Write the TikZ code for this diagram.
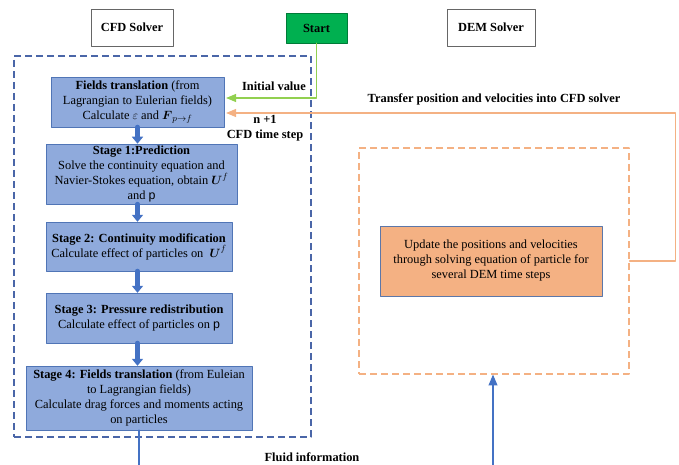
\documentclass[tikz,border=0pt]{standalone}
\usepackage{amsmath,amssymb}
\usepackage{fontspec}
\setmainfont{Liberation Serif}
\setsansfont{Liberation Sans}
\usepackage{tikz}
\usetikzlibrary{arrows,arrows.meta,calc}

\definecolor{stagefill}{HTML}{8FAADC}
\definecolor{stageline}{HTML}{4472C4}
\definecolor{cfdframe}{HTML}{4A66A8}
\definecolor{demfill}{HTML}{F4B183}
\definecolor{demline}{HTML}{F4B183}
\definecolor{startfill}{HTML}{00B050}
\definecolor{initgreen}{HTML}{92D050}

\newcommand{\diagfont}{\fontsize{12.4}{15}\selectfont}

\tikzset{
    solvertitle/.style={draw=gray!80!black,fill=white,font=\diagfont\bfseries,inner sep=0pt},
    stagebox/.style={draw=stageline!80!gray,fill=stagefill,align=center,inner sep=2pt},
    fatarrow/.style={-{Triangle[width=11pt,length=7pt]},line width=5pt,color=stageline},
    looplabel/.style={font=\diagfont\bfseries,align=center,inner sep=0pt}
}

\begin{document}
\begin{tikzpicture}[line cap=round,line join=round,>=triangle 45,x=1pt,y=-1pt,font=\diagfont]
        \useasboundingbox (0,0) rectangle (679,465);
        % titles
        \node[solvertitle,minimum width=82,minimum height=37] (cfdtitle) at (132,27.5) {CFD Solver};
        \node[solvertitle,minimum width=88,minimum height=37] (demtitle) at (491,27.5) {DEM Solver};
        \node[solvertitle,draw=startfill!70!black,fill=startfill,minimum width=61,minimum height=30] (start) at (316.5,28) {Start};
        % solver frames
        \node[draw=cfdframe,dashed,line cap=butt,line width=1.2pt,dash pattern=on 7pt off 4pt,minimum width=297,minimum height=381] (cfdframe) at (162.5,246.5) {};
        \node[draw=demline,dashed,line cap=butt,line width=1.2pt,dash pattern=on 7pt off 4pt,minimum width=270,minimum height=226] (demframe) at (494,261) {};
        % CFD stages
        \node[stagebox,minimum width=173,minimum height=50] (fields) at (137.5,102) {\textbf{Fields translation} (from\\Lagrangian to Eulerian fields)\\Calculate $\varepsilon$ and $\boldsymbol{F}_{p\rightarrow f}$};
        \node[stagebox,minimum width=191,minimum height=58] (stage1) at (141.5,174) {\textbf{Stage 1:Prediction}\\Solve the continuity equation and\\Navier-Stokes equation, obtain $\boldsymbol{U}^{f}$\\and {\sffamily p}};
        \node[stagebox,minimum width=186,minimum height=49] (stage2) at (139,246.5) {\textbf{Stage 2: Continuity modification}\\Calculate effect of particles on \ $\boldsymbol{U}^{f}$};
        \node[stagebox,minimum width=186,minimum height=50] (stage3) at (139,318) {\textbf{Stage 3: Pressure redistribution}\\Calculate effect of particles on {\sffamily p}};
        \node[stagebox,minimum width=226,minimum height=64] (stage4) at (139,398) {\textbf{Stage 4: Fields translation} (from Euleian\\to Lagrangian fields)\\Calculate drag forces and moments acting\\on particles};
        \draw[fatarrow] (fields.south) -- (fields.south |- stage1.north);
        \draw[fatarrow] (stage1.south -| fields.south) -- (stage2.north -| fields.south);
        \draw[fatarrow] (stage2.south -| fields.south) -- (stage3.north -| fields.south);
        \draw[fatarrow] (stage3.south -| fields.south) -- (stage4.north -| fields.south);
        % DEM update
        \node[draw=stageline!60!gray,fill=demfill,align=center,minimum width=222,minimum height=70] (demupdate) at (491,261) {Update the positions and velocities\\through solving equation of particle for\\several DEM time steps};
        % coupling lines
        \draw[->,color=initgreen,line width=1.3pt] (start.south) |- ($(fields.east)+(2,-4)$);
        \draw[->,color=demline,line width=1.3pt] (demframe.east) -- ++(46,0) |- ($(fields.east)+(2,11)$);
        \coordinate (fluidL) at (139,465);
        \coordinate (fluidR) at (493,465);
        \draw[color=stageline,line width=1.5pt] (stage4.south) -- (stage4.south |- fluidL);
        \draw[->,color=stageline,line width=1.5pt] (fluidR) -- (fluidR |- demframe.south);
        % labels
        \node[looplabel,anchor=east] (initlabel) at (306,86) {Initial value};
        \node[looplabel] (steplabel) at (265,128) {n +1\\CFD time step};
        \node[looplabel] (transferlabel) at (494,99) {Transfer position and velocities into CFD solver};
        \node[looplabel] (fluidlabel) at (312,457) {Fluid information};
    \end{tikzpicture}
\end{document}
